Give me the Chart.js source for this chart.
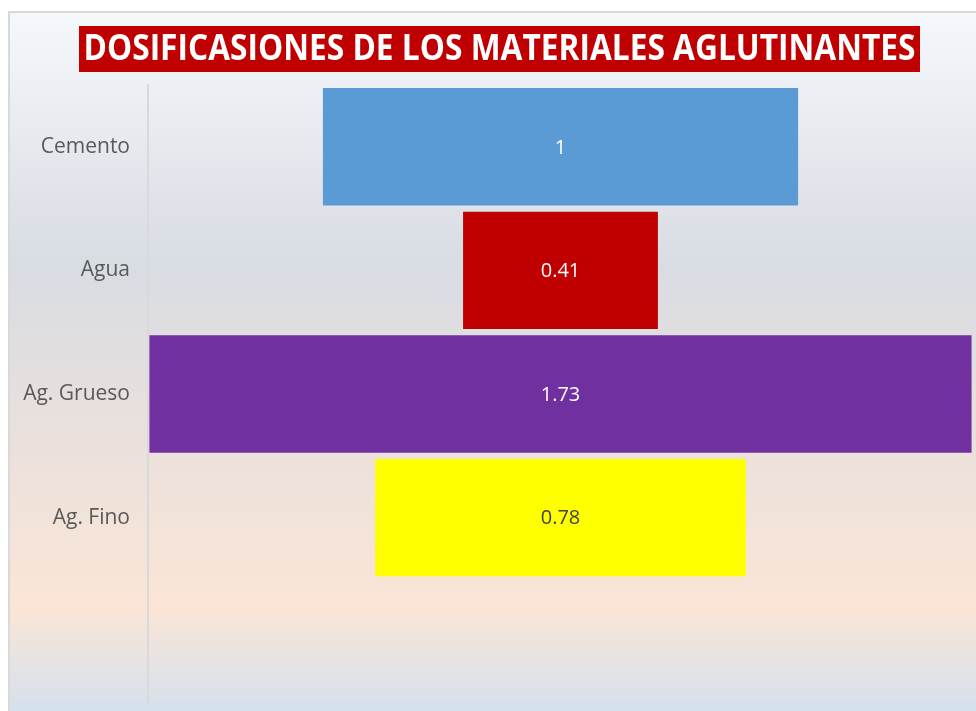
<!DOCTYPE html>
<html>
<head>
<meta charset="utf-8">
<script src="https://cdn.jsdelivr.net/npm/chart.js@4"></script>
<style>
html,body{margin:0;padding:0;background:#fff;}
#wrap{position:absolute;left:0;top:0;width:976px;height:711px;}
</style>
</head>
<body>
<div id="wrap"><canvas id="c" width="976" height="711"></canvas></div>
<script>
const titleText = 'DOSIFICASIONES DE LOS MATERIALES AGLUTINANTES';
const categories = ['Cemento', 'Agua', 'Ag. Grueso', 'Ag. Fino', ''];
const values = [1, 0.41, 1.73, 0.78, null];
const barColors = ['#5b9bd5', '#c00000', '#7030a0', '#ffff00', '#ffffff'];
const labelColors = ['#ffffff', '#ffffff', '#ffffff', '#404040', '#ffffff'];

const floating = values.map(v => v == null ? null : [-v / 2, v / 2]);

const bgPlugin = {
  id: 'bg',
  beforeDraw(chart) {
    const ctx = chart.ctx;
    ctx.save();
    ctx.fillStyle = '#ffffff';
    ctx.fillRect(0, 0, chart.width, chart.height);
    const g = ctx.createLinearGradient(0, 12, 0, 711);
    g.addColorStop(0, '#f5f8fb');
    g.addColorStop(0.36, '#d8dce3');
    g.addColorStop(0.85, '#fbe5d6');
    g.addColorStop(1, '#d5e1ed');
    ctx.fillStyle = g;
    ctx.fillRect(9, 12, chart.width - 9, chart.height - 12);
    ctx.strokeStyle = '#d9d9d9';
    ctx.lineWidth = 2;
    ctx.beginPath();
    ctx.moveTo(9, chart.height);
    ctx.lineTo(9, 12);
    ctx.lineTo(chart.width, 12);
    ctx.stroke();
    // title box
    ctx.fillStyle = '#c00000';
    ctx.fillRect(79, 26, 841, 46);
    ctx.font = 'bold 35px "Open Sans"';
    ctx.textBaseline = 'middle';
    ctx.textAlign = 'center';
    const w = ctx.measureText(titleText).width;
    const sx = 832 / w;
    ctx.translate(499.5, 50);
    ctx.scale(sx, 1);
    ctx.fillStyle = '#ffffff';
    ctx.fillText(titleText, 0, 0);
    ctx.restore();
  }
};

const labelPlugin = {
  id: 'vals',
  afterDatasetsDraw(chart) {
    const ctx = chart.ctx;
    const meta = chart.getDatasetMeta(0);
    ctx.save();
    ctx.font = '20px "Open Sans"';
    ctx.textAlign = 'center';
    ctx.textBaseline = 'middle';
    meta.data.forEach((el, i) => {
      if (values[i] == null) return;
      const p = el.getProps(['x', 'y', 'base'], true);
      ctx.fillStyle = labelColors[i];
      ctx.fillText(String(values[i]), (p.x + p.base) / 2, p.y + 1);
    });
    ctx.restore();
  }
};

new Chart(document.getElementById('c'), {
  type: 'bar',
  data: {
    labels: categories,
    datasets: [{
      data: floating,
      backgroundColor: barColors,
      borderWidth: 0,
      barPercentage: 0.95,
      categoryPercentage: 1
    }]
  },
  options: {
    indexAxis: 'y',
    responsive: false,
    animation: false,
    devicePixelRatio: 1,
    layout: { padding: { top: 85, bottom: 8, left: 0, right: 3 } },
    plugins: { legend: { display: false }, tooltip: { enabled: false }, title: { display: false } },
    scales: {
      x: {
        display: false,
        min: -0.868,
        max: 0.868,
        grid: { display: false }
      },
      y: {
        afterFit(scale) { scale.width = 148; scale.paddingTop = 0; scale.paddingBottom = 0; },
        grid: { display: false, drawTicks: false },
        border: { display: true, color: '#d9d9d9', width: 2 },
        ticks: {
          color: '#595959',
          padding: 18,
          font: { family: '"Open Sans"', size: 21 }
        }
      }
    }
  },
  plugins: [bgPlugin, labelPlugin]
});
</script>
</body>
</html>
